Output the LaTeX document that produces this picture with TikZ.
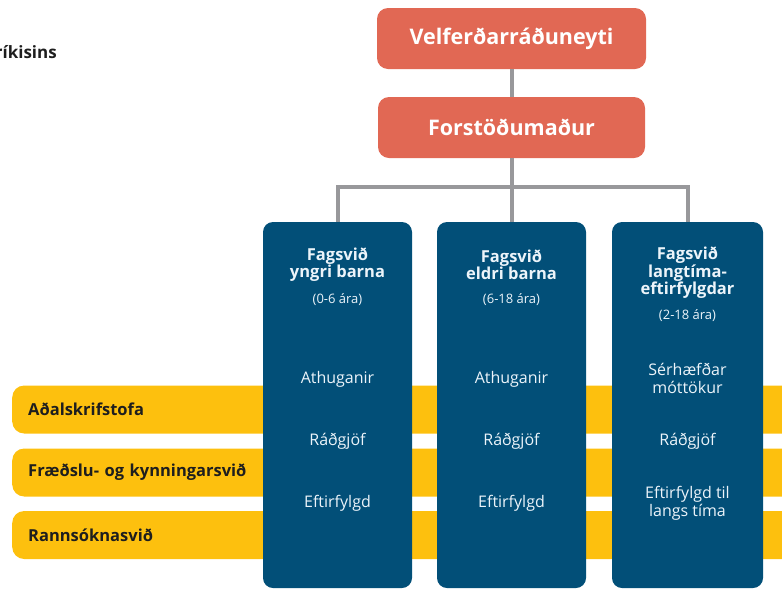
\documentclass[tikz,border=0pt]{standalone}
\usepackage{fontspec}
\setmainfont{Open Sans}
\definecolor{coral}{RGB}{225,104,84}
\definecolor{navy}{RGB}{2,79,120}
\definecolor{gold}{RGB}{253,192,14}
\definecolor{conngray}{RGB}{152,152,155}
\definecolor{ink}{RGB}{30,30,30}
\definecolor{paleblue}{RGB}{236,244,250}
\tikzset{
  topbox/.style={rectangle, rounded corners=11pt, fill=coral, text=white, inner sep=0pt,
    font=\fontsize{21.5}{25}\selectfont\bfseries},
  colbox/.style={rectangle, rounded corners=10pt, fill=navy, inner sep=0pt,
    minimum height=366pt},
  band/.style={rectangle, rounded corners=12pt, fill=gold, text=ink, anchor=west,
    minimum height=48pt, text width=780pt, align=left, inner xsep=16pt, inner ysep=0pt,
    font=\fontsize{16.5}{19}\selectfont\bfseries},
  hd/.style={text=paleblue, align=center, inner sep=0pt, font=\fontsize{16.5}{17.5}\selectfont\bfseries},
  age/.style={text=paleblue, align=center, inner sep=0pt, font=\fontsize{13}{15}\selectfont},
  item/.style={text=paleblue, align=center, inner sep=0pt, font=\fontsize{16}{18}\selectfont},
  conn/.style={draw=conngray, line width=4pt}
}
\begin{document}
\begin{tikzpicture}[x=1pt,y=-1pt]
\useasboundingbox (0,0) rectangle (782,590);
% partial title (cut at the left edge, as in the reference)
\node[anchor=east, inner sep=0pt, text=ink, font=\fontsize{17}{20}\selectfont\bfseries] (title) at (57,52) {ríkisins};
% bands
\node[band] (b1) at (12,409.5) {Aðalskrifstofa};
\node[band] (b2) at (12,472.5) {Fræðslu- og kynningarsvið};
\node[band] (b3) at (12,535) {Rannsóknasvið};
% top boxes
\node[topbox, minimum width=269pt, minimum height=61pt] (vel) at (511.5,38.5) {Velferðarráðuneyti};
\node[topbox, minimum width=267pt, minimum height=61pt] (for) at (511.5,127.5) {Forstöðumaður};
% columns
\node[colbox, minimum width=149pt] (f1) at (337.5,405) {};
\node[colbox, minimum width=149pt] (f2) at (511.5,405) {};
\node[colbox, minimum width=151pt] (f3) at (687.5,405) {};
% connectors
\coordinate (br) at (511.5,187);
\draw[conn] (vel) -- (for);
\draw[conn] (for) -- (f2);
\draw[conn] (f1.north) |- (br) -| (f3.north);
% column 1
\node[hd] (h1) at (337.5,264.5) {Fagsvið\\yngri barna};
\node[age] (a1) at (337.5,300) {(0-6 ára)};
\node[item] (i11) at (337.5,379) {Athuganir};
\node[item] (i12) at (337.5,441) {Ráðgjöf};
\node[item] (i13) at (337.5,503) {Eftirfylgd};
% column 2
\node[hd] (h2) at (511.5,264.5) {Fagsvið\\eldri barna};
\node[age] (a2) at (511.5,300) {(6-18 ára)};
\node[item] (i21) at (511.5,379) {Athuganir};
\node[item] (i22) at (511.5,441) {Ráðgjöf};
\node[item] (i23) at (511.5,503) {Eftirfylgd};
% column 3
\node[hd] (h3) at (687.5,273) {Fagsvið\\langtíma-\\eftirfylgdar};
\node[age] (a3) at (687.5,316) {(2-18 ára)};
\node[item] (i31) at (687.5,378.5) {Sérhæfðar\\móttökur};
\node[item] (i32) at (687.5,441) {Ráðgjöf};
\node[item] (i33) at (687.5,503) {Eftirfylgd til\\langs tíma};
\end{tikzpicture}
\end{document}
